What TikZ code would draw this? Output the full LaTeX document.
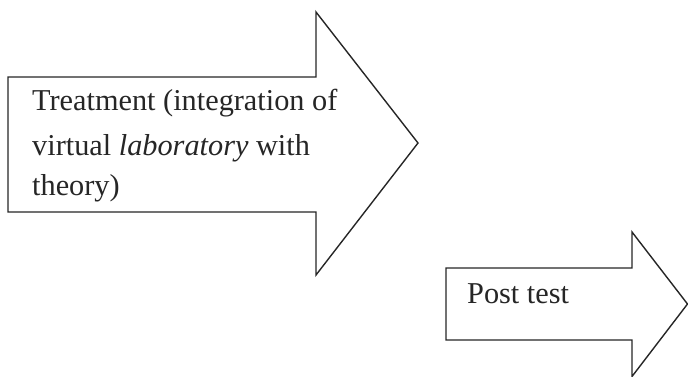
\documentclass[tikz,border=0pt]{standalone}
\usepackage{fontspec}
\setmainfont{Liberation Serif}
\begin{document}
\begin{tikzpicture}[x=1pt,y=-1pt,
  arrowshape/.style={draw=black!85, line width=1.4pt, line join=miter, fill=white},
  label/.style={anchor=base west, inner sep=0pt, font=\fontsize{30.3}{34}\selectfont, text=black!85}]
\useasboundingbox (0,0) rectangle (688,376);
% first arrow
\draw[arrowshape] (8,77) -- (316,77) -- (316,12) -- (418,143) -- (316,275) -- (316,212) -- (8,212) -- cycle;
\node[label] (t1) at (32,110) {Treatment (integration of};
\node[label] (t2) at (32,155) {virtual \textit{laboratory} with};
\node[label] (t3) at (32,195) {theory)};
% second arrow
\draw[arrowshape] (446,268) -- (632,268) -- (632,232) -- (687.5,304) -- (632,376.5) -- (632,340) -- (446,340) -- cycle;
\node[label] (p1) at (467,303) {Post test};
\end{tikzpicture}
\end{document}
